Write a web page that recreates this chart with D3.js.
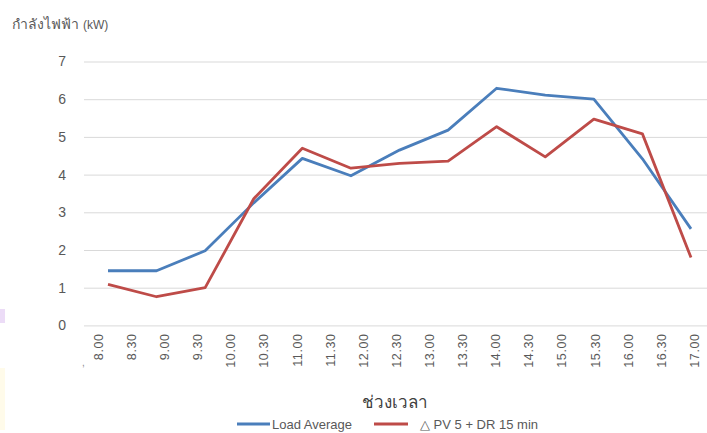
<!DOCTYPE html>
<html>
<head>
<meta charset="utf-8">
<script src="https://cdn.jsdelivr.net/npm/d3@7"></script>
<style>
  body { margin: 0; background: #fff; }
  text { font-family: "Liberation Sans", Arial, sans-serif; }
</style>
</head>
<body>
<div id="chart"></div>
<script>
var svgWidth = 707;
var svgHeight = 433;

// x labels shown on the axis (half hours)
var timeLabels = ["8.00", "8.30", "9.00", "9.30", "10.00", "10.30", "11.00", "11.30",
  "12.00", "12.30", "13.00", "13.30", "14.00", "14.30", "15.00", "15.30",
  "16.00", "16.30", "17.00"];

// the two series have 13 points each, spread over the same width
var loadAverage = [1.45, 1.45, 1.98, 3.25, 4.43, 3.97, 4.65, 5.18, 6.29, 6.11, 6.0, 4.42, 2.56];
var pvDr = [1.09, 0.76, 1.0, 3.36, 4.70, 4.17, 4.30, 4.36, 5.27, 4.47, 5.47, 5.08, 1.80];

var yTicks = [0, 1, 2, 3, 4, 5, 6, 7];

var svg = d3.select("#chart")
            .append("svg")
            .attr("width", svgWidth)
            .attr("height", svgHeight);

// faint leftovers at the left edge of the picture
svg.append("rect").attr("x", 0).attr("y", 309).attr("width", 5).attr("height", 14)
   .attr("fill", "#ecdcf7");
svg.append("rect").attr("x", 0).attr("y", 368).attr("width", 5).attr("height", 62)
   .attr("fill", "#fffbea");

// scales
var yScale = d3.scaleLinear()
               .domain([0, 7])
               .range([325.4, 61.5]);

var labelScale = d3.scalePoint()
                   .domain(timeLabels)
                   .range([98, 694]);

var pointScale = d3.scalePoint()
                   .domain(d3.range(loadAverage.length))
                   .range([108, 691]);

// gridlines + y labels
var yAxis = d3.axisLeft(yScale)
              .tickValues(yTicks)
              .tickFormat(d3.format("d"))
              .tickSize(-(707 - 84))
              .tickPadding(18);

var yAxisGroup = svg.append("g")
                    .attr("transform", "translate(84,0)")
                    .call(yAxis);

yAxisGroup.select(".domain").remove();
yAxisGroup.selectAll(".tick line").attr("stroke", "#d9d9d9").attr("stroke-width", 1);
yAxisGroup.selectAll(".tick text")
          .attr("fill", "#595959")
          .style("font-size", "14px")
          .style("font-family", "'Liberation Sans', Arial, sans-serif");

// x axis with rotated labels
var xAxis = d3.axisBottom(labelScale).tickSize(0).tickPadding(0);

var xAxisGroup = svg.append("g")
                    .attr("transform", "translate(0,325.4)")
                    .call(xAxis);

xAxisGroup.select(".domain").remove();
xAxisGroup.selectAll(".tick text")
          .attr("transform", "rotate(-90)")
          .attr("x", -8)
          .attr("y", 0)
          .attr("dy", "0.35em")
          .attr("text-anchor", "end")
          .attr("fill", "#595959")
          .style("font-size", "12.5px")
          .style("letter-spacing", "0.6px")
          .style("font-family", "'Liberation Sans', Arial, sans-serif");

// small stray mark before the first label
svg.append("text")
   .attr("x", 82).attr("y", 366)
   .attr("fill", "#8c8c8c")
   .style("font-size", "10px")
   .text(",");

// lines
var line = d3.line()
             .x((d, i) => pointScale(i))
             .y(d => yScale(d));

svg.append("path")
   .datum(loadAverage)
   .attr("d", line)
   .attr("fill", "none")
   .attr("stroke", "#4a7ebb")
   .attr("stroke-width", 2.8)
   .attr("stroke-linejoin", "round");

svg.append("path")
   .datum(pvDr)
   .attr("d", line)
   .attr("fill", "none")
   .attr("stroke", "#be4b48")
   .attr("stroke-width", 2.8)
   .attr("stroke-linejoin", "round");

// y axis title
var yTitle = svg.append("text")
                .attr("x", 12)
                .attr("y", 29)
                .attr("fill", "#595959");
yTitle.append("tspan").style("font-size", "14px").text("กำลังไฟฟ้า ");
yTitle.append("tspan").style("font-size", "12px").text("(kW)");

// x axis title
svg.append("text")
   .attr("x", 395)
   .attr("y", 408)
   .attr("text-anchor", "middle")
   .attr("fill", "#404040")
   .style("font-size", "17px")
   .text("ช่วงเวลา");

// legend
var legend = svg.append("g").attr("transform", "translate(0,424)");

legend.append("line")
      .attr("x1", 237).attr("x2", 270).attr("y1", 0).attr("y2", 0)
      .attr("stroke", "#4a7ebb").attr("stroke-width", 2.8);
legend.append("text")
      .attr("x", 272).attr("y", 0).attr("dy", "0.35em")
      .attr("fill", "#595959")
      .style("font-size", "13px")
      .text("Load Average");

legend.append("line")
      .attr("x1", 374).attr("x2", 408).attr("y1", 0).attr("y2", 0)
      .attr("stroke", "#be4b48").attr("stroke-width", 2.8);
legend.append("text")
      .attr("x", 420).attr("y", 0).attr("dy", "0.35em")
      .attr("fill", "#595959")
      .style("font-size", "13px")
      .text("△ PV 5 + DR 15 min");
</script>
</body>
</html>
